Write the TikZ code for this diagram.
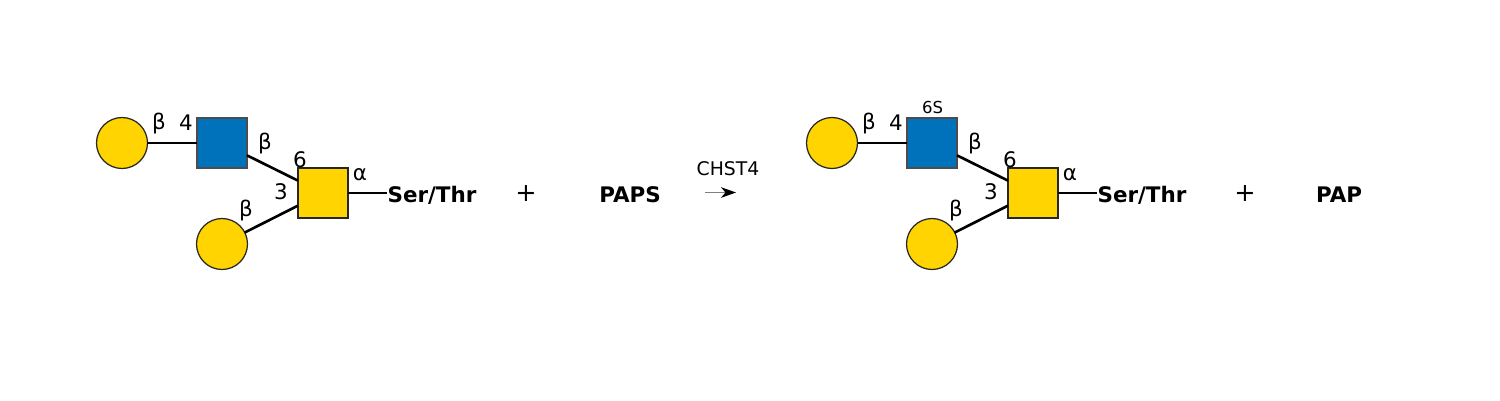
\documentclass[tikz,border=0pt]{standalone}
\usepackage{fontspec}
\setmainfont{DejaVu Sans}
\usetikzlibrary{arrows.meta}
\definecolor{gal}{HTML}{FFD400}
\definecolor{glcnac}{HTML}{0072BC}
\tikzset{
 x=0.02cm,y=-0.02cm,
 sugarline/.style={draw=black,line width=1.5pt},
 galcircle/.style={circle,draw=black!85,line width=0.7pt,fill=gal,minimum size=1.02cm,inner sep=0pt,outer sep=0pt},
 galsquare/.style={rectangle,draw=black!85,line width=0.7pt,fill=gal,minimum size=1cm,inner sep=0pt,outer sep=0pt},
 bluesquare/.style={rectangle,draw=black!70,line width=0.7pt,fill=glcnac,minimum size=1cm,inner sep=0pt,outer sep=0pt},
 lab/.style={inner sep=0pt,font=\fontsize{12.2pt}{14pt}\selectfont},
 small/.style={inner sep=0pt,font=\fontsize{9.4pt}{11pt}\selectfont},
 bold/.style={inner sep=0pt,font=\fontsize{12.2pt}{14pt}\selectfont\bfseries},
 enzyme/.style={inner sep=0pt,font=\fontsize{10.7pt}{12pt}\selectfont},
 plus/.style={inner sep=0pt,font=\fontsize{14.5pt}{16pt}\selectfont},
 reactarrow/.style={draw=gray,line width=0.8pt,-{Stealth[length=8.5pt,width=6pt,inset=2.5pt,black]}},
}
\begin{document}
\begin{tikzpicture}
\useasboundingbox (0,0) rectangle (1500,400);
\node[galcircle] (a1) at (122,143) {};
\node[bluesquare] (a2) at (222,143) {};
\node[galsquare] (a3) at (323,193) {};
\node[galcircle] (a4) at (222,244) {};
\node[bold] (a5) at (432,195.5) {Ser/Thr};
\draw[sugarline] (a1) -- (a2);
\draw[sugarline] (a2) -- (a3);
\draw[sugarline] (a4) -- (a3);
\draw[sugarline] (a3.east) -- (a5.west |- a3.east);
\node[lab] at (159,124) {β};
\node[lab] at (186,123) {4};
\node[lab] at (265,144) {β};
\node[lab] at (300,159.5) {6};
\node[lab] at (281,192) {3};
\node[lab] at (246,211) {β};
\node[lab] at (360,175) {α};
\node[plus] (p1) at (526,194) {+};
\node[bold] (paps) at (630,195) {PAPS};
\node[enzyme] (chst) at (728,169) {CHST4};
\coordinate (ars) at (705,192.5);
\coordinate (are) at (736,192.5);
\draw[reactarrow] (ars) -- (are);
\node[galcircle] (b1) at (832,143) {};
\node[bluesquare] (b2) at (932,143) {};
\node[galsquare] (b3) at (1033,193) {};
\node[galcircle] (b4) at (932,244) {};
\node[bold] (b5) at (1142,195.5) {Ser/Thr};
\draw[sugarline] (b1) -- (b2);
\draw[sugarline] (b2) -- (b3);
\draw[sugarline] (b4) -- (b3);
\draw[sugarline] (b3.east) -- (b5.west |- b3.east);
\node[small] at (932.5,107.5) {6S};
\node[lab] at (869,124) {β};
\node[lab] at (896,123) {4};
\node[lab] at (975,144) {β};
\node[lab] at (1010,159.5) {6};
\node[lab] at (991,192) {3};
\node[lab] at (956,211) {β};
\node[lab] at (1070,175) {α};
\node[plus] (p2) at (1245,194) {+};
\node[bold] (pap) at (1339,195) {PAP};
\end{tikzpicture}
\end{document}
